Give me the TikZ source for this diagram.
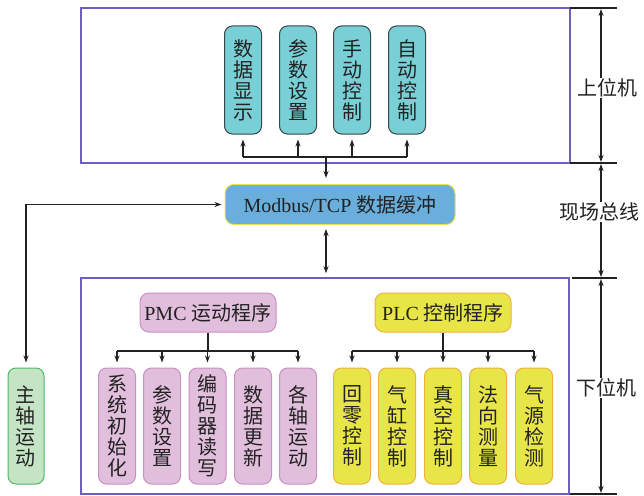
\documentclass[tikz,border=0pt]{standalone}
\usepackage{fontspec}
\setmainfont{Liberation Serif}
\newfontfamily\cjk{Noto Sans CJK SC}
\usetikzlibrary{arrows.meta}
\definecolor{cyanF}{HTML}{78CFD6}
\definecolor{cyanD}{HTML}{3A4648}
\definecolor{blueF}{HTML}{6AAEDB}
\definecolor{blueD}{HTML}{E8E050}
\definecolor{greenF}{HTML}{C5E4C5}
\definecolor{greenD}{HTML}{4CB860}
\definecolor{pinkF}{HTML}{E2BEDD}
\definecolor{pinkD}{HTML}{C890C0}
\definecolor{yelF}{HTML}{E8E548}
\definecolor{yelD}{HTML}{F0B040}
\definecolor{frameC}{HTML}{6B5FBF}
\definecolor{txt}{HTML}{222222}
\begin{document}
\begin{tikzpicture}[x=1pt,y=-1pt,
  vbox/.style={draw, rounded corners=8pt, minimum width=37pt, inner sep=0pt, align=center,
    text=txt, font=\cjk\fontsize{20}{21}\selectfont, line width=1pt},
  upbox/.style={vbox, fill=cyanF, draw=cyanD, minimum height=108pt},
  pkbox/.style={vbox, fill=pinkF, draw=pinkD, minimum height=116pt},
  ylbox/.style={vbox, fill=yelF, draw=yelD, minimum height=116pt},
  hbox/.style={draw, rounded corners=9pt, inner sep=0pt, line width=1pt, text=txt,
    font=\fontsize{20}{22}\selectfont},
  frame/.style={draw=frameC, line width=1.5pt},
  arr/.style={line width=1.2pt, draw=txt, -{Stealth[length=7pt,width=5pt]}},
  darr/.style={line width=1.2pt, draw=txt, {Stealth[length=7pt,width=5pt]}-{Stealth[length=7pt,width=5pt]}},
  ln/.style={line width=1.2pt, draw=txt},
  tick/.style={line width=1.2pt, draw=txt},
  side/.style={fill=white, inner sep=1pt, text=txt, font=\cjk\fontsize{20}{22}\selectfont}
]
\useasboundingbox (0,0) rectangle (644,495);

% frames
\node[frame, minimum width=489pt, minimum height=155pt, inner sep=0pt] (upper) at (325.5,85.5) {};
\node[frame, minimum width=488pt, minimum height=216pt, inner sep=0pt] (lower) at (325,386) {};

% upper nodes
\node[upbox] (u1) at (243,80) {数\\据\\显\\示};
\node[upbox] (u2) at (298,80) {参\\数\\设\\置};
\node[upbox] (u3) at (352,80) {手\\动\\控\\制};
\node[upbox] (u4) at (407,80) {自\\动\\控\\制};

% modbus
\node[hbox, fill=blueF, draw=blueD, minimum width=230pt, minimum height=40pt] (mb) at (340,204.5)
  {Modbus/TCP {\cjk 数据缓冲}};

% main spindle
\node[vbox, fill=greenF, draw=greenD, minimum width=36pt, minimum height=116pt] (zz) at (26,426) {主\\轴\\运\\动};

% PMC / PLC
\node[hbox, fill=pinkF, draw=pinkD, minimum width=136pt, minimum height=39pt] (pmc) at (208,312.5)
  {PMC {\cjk 运动程序}};
\node[hbox, fill=yelF, draw=yelD, minimum width=136pt, minimum height=39pt] (plc) at (443,312.5)
  {PLC {\cjk 控制程序}};

\node[pkbox] (p1) at (117,426) {系\\统\\初\\始\\化};
\node[pkbox] (p2) at (162,426) {参\\数\\设\\置};
\node[pkbox] (p3) at (207.5,426) {编\\码\\器\\读\\写};
\node[pkbox] (p4) at (253,426) {数\\据\\更\\新};
\node[pkbox] (p5) at (298,426) {各\\轴\\运\\动};

\node[ylbox] (l1) at (352,426) {回\\零\\控\\制};
\node[ylbox] (l2) at (397,426) {气\\缸\\控\\制};
\node[ylbox] (l3) at (443,426) {真\\空\\控\\制};
\node[ylbox] (l4) at (488,426) {法\\向\\测\\量};
\node[ylbox] (l5) at (534,426) {气\\源\\检\\测};

% upper bus
\coordinate (ub) at (326,157);
\draw[ln] (u1.south |- ub) -- (u4.south |- ub);
\foreach \n in {u1,u2,u3,u4} \draw[arr, shorten >=5pt] (\n.south |- ub) -- (\n.south);
\draw[arr, shorten >=6pt] (ub) -- (ub |- mb.north);

% modbus <-> lower
\coordinate (mbl) at (326,228);
\draw[darr, shorten <=1pt, shorten >=4pt] (mbl) -- (mbl |- lower.north);

% modbus <-> spindle
\draw[darr, shorten <=3pt, shorten >=5pt] (mb.west) -| (zz.north);

% PMC bus
\coordinate (pb) at (208,351);
\draw[ln] (pmc.south) -- (pb);
\draw[ln] (p1.north |- pb) -- (p5.north |- pb);
\foreach \n in {p1,p2,p3,p4,p5} \draw[arr, shorten >=5pt] (\n.north |- pb) -- (\n.north);

% PLC bus
\coordinate (lb) at (443,351);
\draw[ln] (plc.south) -- (lb);
\draw[ln] (l1.north |- lb) -- (l5.north |- lb);
\foreach \n in {l1,l2,l3,l4,l5} \draw[arr, shorten >=5pt] (\n.north |- lb) -- (\n.north);

% right side scale
\coordinate (t1a) at (570,8);   \coordinate (t1b) at (617,8);
\coordinate (t2a) at (570,163); \coordinate (t2b) at (617,163);
\coordinate (t3a) at (572,278); \coordinate (t3b) at (617,278);
\coordinate (t4a) at (570,494); \coordinate (t4b) at (617,494);
\draw[tick] (t1a) -- (t1b);
\draw[tick] (t2a) -- (t2b);
\draw[tick] (t3a) -- (t3b);
\draw[tick] (t4a) -- (t4b);
\coordinate (s1) at (601,8);
\coordinate (s2) at (601,163);
\coordinate (s3) at (601,278);
\coordinate (s4) at (601,494);
\draw[darr, shorten <=1pt, shorten >=1pt] (s1) -- (s2);
\draw[darr, shorten <=1pt, shorten >=1pt] (s2) -- (s3);
\draw[darr, shorten <=1pt, shorten >=1pt] (s3) -- (s4);
\node[side] (lab1) at (607,88) {上位机};
\node[side] (lab2) at (599,212) {现场总线};
\node[side] (lab3) at (606,388) {下位机};
\end{tikzpicture}
\end{document}
